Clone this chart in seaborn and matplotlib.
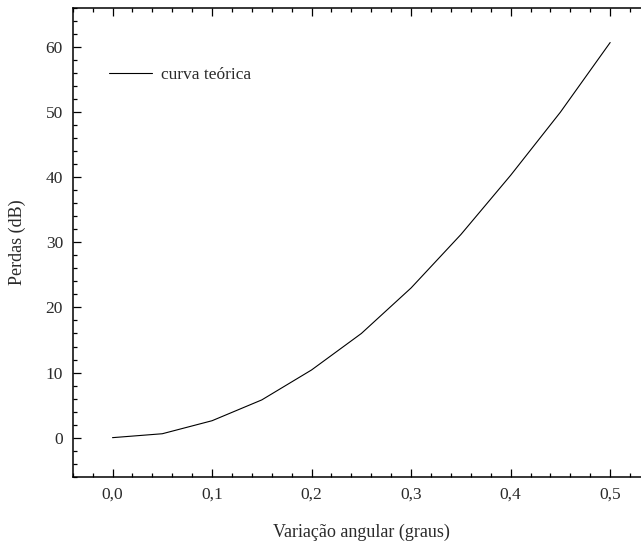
import seaborn as sns
import pandas as pd
import matplotlib
matplotlib.use("Agg")
import matplotlib.pyplot as plt
from matplotlib.ticker import MultipleLocator, FuncFormatter

sns.set_theme(style="ticks")
plt.rcParams['font.family'] = ['Liberation Serif', 'DejaVu Serif']

# angular variation (degrees) and losses (dB)
angulo = [0.0, 0.05, 0.10, 0.15, 0.20, 0.25, 0.30, 0.35, 0.40, 0.45, 0.50]
perdas = [0.0, 0.6, 2.6, 5.8, 10.4, 16.0, 23.0, 31.2, 40.3, 50.0, 60.7]
serie = 'curva teórica'

df = pd.DataFrame({'x': angulo, 'y': perdas})

fig = plt.figure(figsize=(6.41, 5.45), dpi=100)
ax = fig.add_axes([0.1134, 0.1253, 0.9006, 0.86])

sns.lineplot(data=df, x='x', y='y', color='black', linewidth=0.8, ax=ax, label=serie)

ax.set_xlim(-0.04, 0.54)
ax.set_ylim(-6, 66)
ax.xaxis.set_major_locator(MultipleLocator(0.1))
ax.xaxis.set_minor_locator(MultipleLocator(0.02))
ax.yaxis.set_major_locator(MultipleLocator(10))
ax.yaxis.set_minor_locator(MultipleLocator(2))
ax.xaxis.set_major_formatter(FuncFormatter(lambda v, p: ('%.1f' % v).replace('.', ',')))
ax.yaxis.set_major_formatter(FuncFormatter(lambda v, p: '%d' % round(v)))

txt = '#2a2a2a'
ax.tick_params(which='both', direction='in', top=True, right=True, width=0.9,
               color='black', labelcolor=txt, labelsize=12.5)
ax.tick_params(which='major', length=6)
ax.tick_params(which='minor', length=3)
ax.tick_params(axis='x', pad=7)
ax.tick_params(axis='y', pad=7)
for s in ax.spines.values():
    s.set_linewidth(1.1)
    s.set_color('black')

ax.set_xlabel('Variação angular (graus)', fontsize=13, labelpad=15, color=txt)
ax.set_ylabel('Perdas (dB)', fontsize=13, labelpad=14, color=txt)

leg = ax.legend(loc='center left', bbox_to_anchor=(0.063, 0.857), frameon=False,
                fontsize=12.5, handlelength=2.5, handletextpad=0.5,
                borderpad=0, borderaxespad=0, labelcolor=txt)

fig.savefig('out.png', dpi=100)
